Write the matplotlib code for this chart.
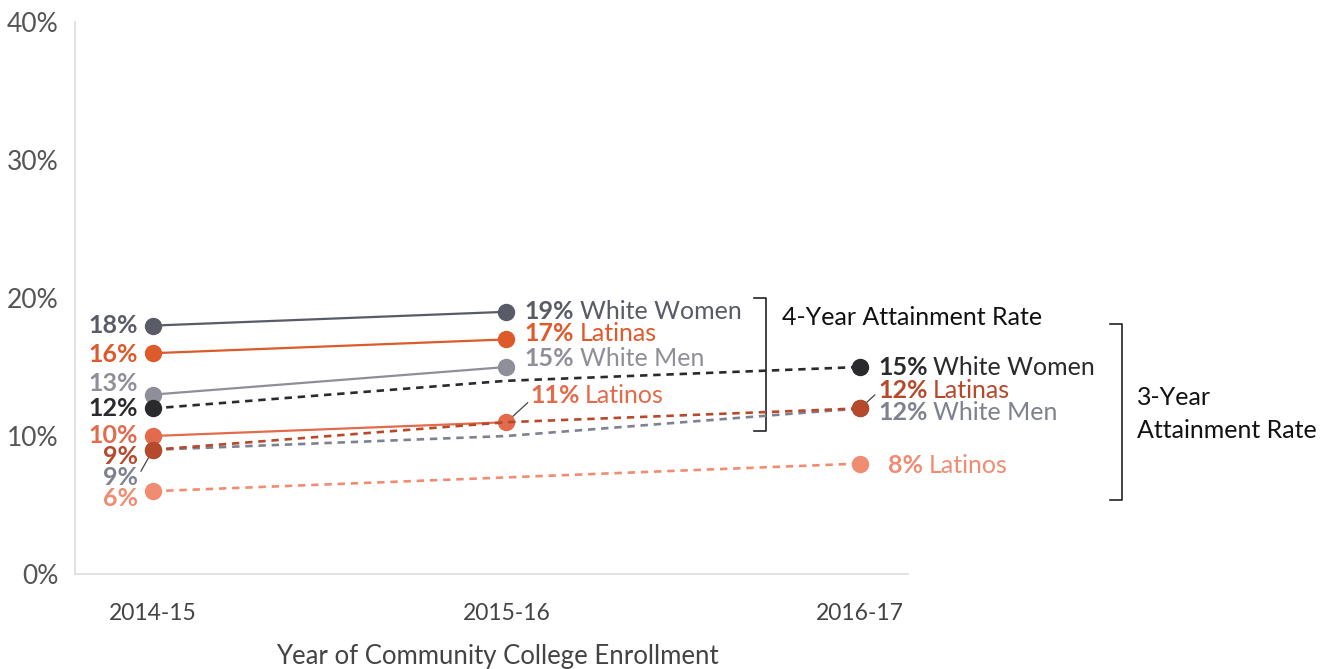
import numpy as np
import matplotlib.pyplot as plt

plt.rcParams['font.family'] = ['Lato', 'DejaVu Sans']

years = ['2014-15', '2015-16', '2016-17']

# 4-year attainment rate (solid lines, first two years)
four_ww = [18, 19]
four_latinas = [16, 17]
four_wm = [13, 15]
four_latinos = [10, 11]

# 3-year attainment rate (dotted lines, all three years)
three_ww = [12, 14, 15]
three_latinas = [9, 11, 12]
three_wm = [9, 10, 12]
three_latinos = [6, 7, 8]

c_ww4, c_lta4, c_wm4, c_lto4 = '#595b67', '#dd5a2b', '#8f8f99', '#e36b4c'
c_ww3, c_lta3, c_wm3, c_lto3 = '#2a2a2d', '#b6482b', '#7e818f', '#f08c72'

fig = plt.figure(figsize=(13.38, 6.69), dpi=100)
ax = fig.add_axes([75 / 1338, 1 - 574 / 669, (908 - 75) / 1338, (574 - 22) / 669])

x4 = np.arange(len(four_ww))
x3 = np.arange(len(three_ww))

for vals, c in [(four_ww, c_ww4), (four_latinas, c_lta4), (four_wm, c_wm4), (four_latinos, c_lto4)]:
    ax.plot(x4, vals, color=c, lw=1.6, marker='o', ms=11.5, zorder=3)

for vals, c in [(three_ww, c_ww3), (three_wm, c_wm3), (three_latinas, c_lta3), (three_latinos, c_lto3)]:
    ax.plot(x3, vals, color=c, lw=1.9, ls=(0, (2.8, 2.2)), marker='o', ms=11.5,
            markevery=[0, 2], zorder=3)

ax.set_xlim(-0.2207, 2.136)
ax.set_ylim(0, 40)
ax.set_yticks([0, 10, 20, 30, 40])
ax.set_yticklabels(['0%', '10%', '20%', '30%', '40%'])
ax.set_xticks(range(len(years)))
ax.set_xticklabels(years)
ax.tick_params(axis='y', length=0, pad=12, labelsize=19, labelcolor='#555555')
ax.tick_params(axis='x', length=0, pad=21, labelsize=16.5, labelcolor='#444444')
ax.set_xlabel('Year of Community College Enrollment', fontsize=18.5, color='#444444')
ax.xaxis.set_label_coords(0.5075, -0.1486)
ax.xaxis.label.set_va('center')
for s in ['top', 'right']:
    ax.spines[s].set_visible(False)
for s in ['left', 'bottom']:
    ax.spines[s].set_color('#dddddd')
    ax.spines[s].set_linewidth(1.2)

fs = 18


def label(x, y, pct, name, color, dx):
    t = ax.annotate(pct, xy=(x, y), xytext=(dx, 0), textcoords='offset points',
                    fontsize=fs, fontweight='bold', color=color, va='center', ha='left')
    if name:
        ax.annotate(name, xy=(1, 0), xycoords=t, xytext=(4, 0), textcoords='offset points',
                    fontsize=fs, color=color, va='bottom', ha='left')


def left_label(y, pct, color):
    ax.annotate(pct, xy=(0, y), xytext=(-11, 0), textcoords='offset points',
                fontsize=fs, fontweight='bold', color=color, va='center', ha='right')


# left labels
left_label(18, '18%', c_ww4)
left_label(15.94, '16%', c_lta4)
left_label(13.77, '13%', c_wm4)
left_label(11.96, '12%', c_ww3)
left_label(10.05, '10%', c_lto4)
left_label(8.5, '9%', c_lta3)
left_label(7.0, '9%', c_wm3)
left_label(5.5, '6%', c_lto3)
ax.plot([-0.034, 0], [7.46, 9], color='#444444', lw=0.9, zorder=2)

# middle labels
label(1, 19.0, '19%', 'White Women', c_ww4, 13)
label(1, 17.46, '17%', 'Latinas', c_lta4, 13)
label(1, 15.58, '15%', 'White Men', c_wm4, 13)
label(1, 12.9, '11%', 'Latinos', c_lto4, 17)
ax.plot([1.06, 1], [12.41, 11], color='#444444', lw=0.9, zorder=2)

# right labels
label(2, 14.93, '15%', 'White Women', c_ww3, 13)
label(2, 13.33, '12%', 'Latinas', c_lta3, 13)
label(2, 11.67, '12%', 'White Men', c_wm3, 13)
label(2, 7.83, '8%', 'Latinos', c_lto3, 20)
ax.plot([2.042, 2], [12.97, 12], color='#444444', lw=0.9, zorder=2)

# brackets
bk = dict(color='#222222', lw=1.2, clip_on=False)
ax.plot([1.700, 1.734, 1.734, 1.700], [20.0, 20.0, 10.36, 10.36], **bk)
ax.plot([2.707, 2.741, 2.741, 2.707], [18.1, 18.1, 5.36, 5.36], **bk)
ax.text(1.779, 18.6, '4-Year Attainment Rate', fontsize=fs, color='#111111',
        va='center', ha='left', clip_on=False)
ax.text(2.784, 11.59, '3-Year\nAttainment Rate', fontsize=fs, color='#111111',
        va='center', ha='left', linespacing=1.5, clip_on=False)

fig.savefig('out.png', dpi=100)
